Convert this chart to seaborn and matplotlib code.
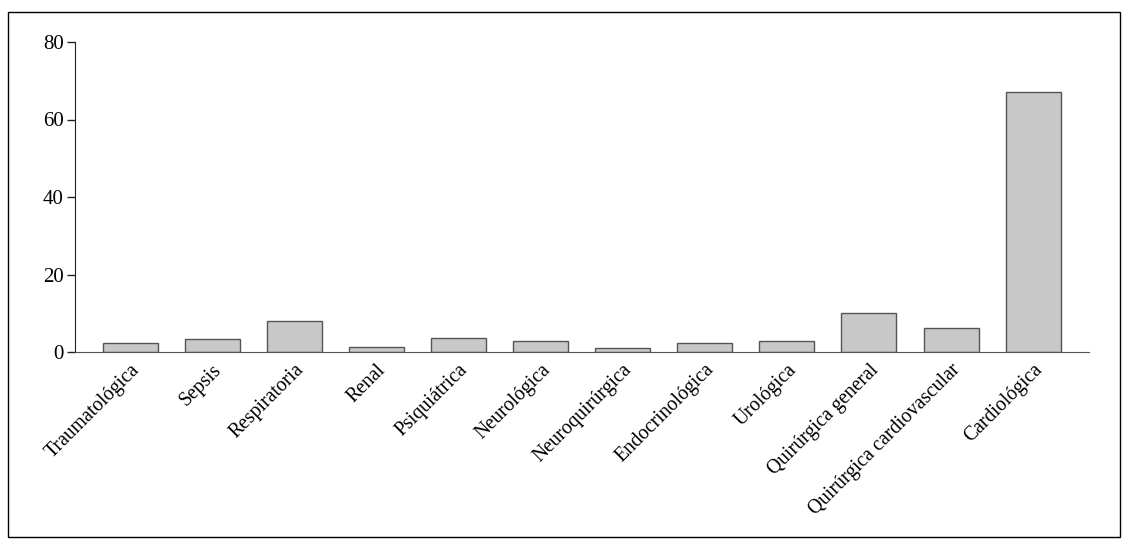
import matplotlib
matplotlib.use("Agg")
import matplotlib.pyplot as plt
import seaborn as sns
import pandas as pd
from matplotlib.patches import Rectangle

# Data
categories = ["Traumatológica", "Sepsis", "Respiratoria", "Renal", "Psiquiátrica",
              "Neurológica", "Neuroquirúrgica", "Endocrinológica", "Urológica",
              "Quirúrgica general", "Quirúrgica cardiovascular", "Cardiológica"]
values = [2.3, 3.4, 8.0, 1.3, 3.6, 2.8, 1.0, 2.3, 2.8, 10.1, 6.2, 67.1]
y_ticks = [0, 20, 40, 60, 80]

df = pd.DataFrame({"cat": categories, "val": values})

sns.set_style("ticks")
plt.rcParams["font.family"] = ["Liberation Serif", "DejaVu Serif"]

fig = plt.figure(figsize=(11.28, 5.44), dpi=100)
ax = fig.add_axes([75 / 1128, 192 / 544, 1014 / 1128, 310 / 544])

sns.barplot(data=df, x="cat", y="val", color="#c8c8c8", edgecolor="#555555",
            linewidth=1, width=0.67, saturation=1, ax=ax)

ax.set_xlim(-0.67, 11.68)
ax.set_ylim(0, 80)
ax.set_yticks(y_ticks)
ax.set_xlabel("")
ax.set_ylabel("")
sns.despine(ax=ax)
ax.spines["left"].set_color("#222222")
ax.spines["bottom"].set_color("#555555")
ax.tick_params(axis="y", length=6, width=1, labelsize=15, pad=2,
               colors="#222222", labelcolor="black")
ax.tick_params(axis="x", length=0, labelsize=14.2, pad=6, labelcolor="black")
for lab in ax.get_xticklabels():
    lab.set_rotation(45)
    lab.set_ha("right")
    lab.set_rotation_mode("anchor")

# frame around the whole figure
fig.patches.append(Rectangle((8 / 1128, 7 / 544), 1112 / 1128, 525 / 544,
                             transform=fig.transFigure, fill=False,
                             edgecolor="black", linewidth=1))

plt.savefig("out.png", dpi=100)
